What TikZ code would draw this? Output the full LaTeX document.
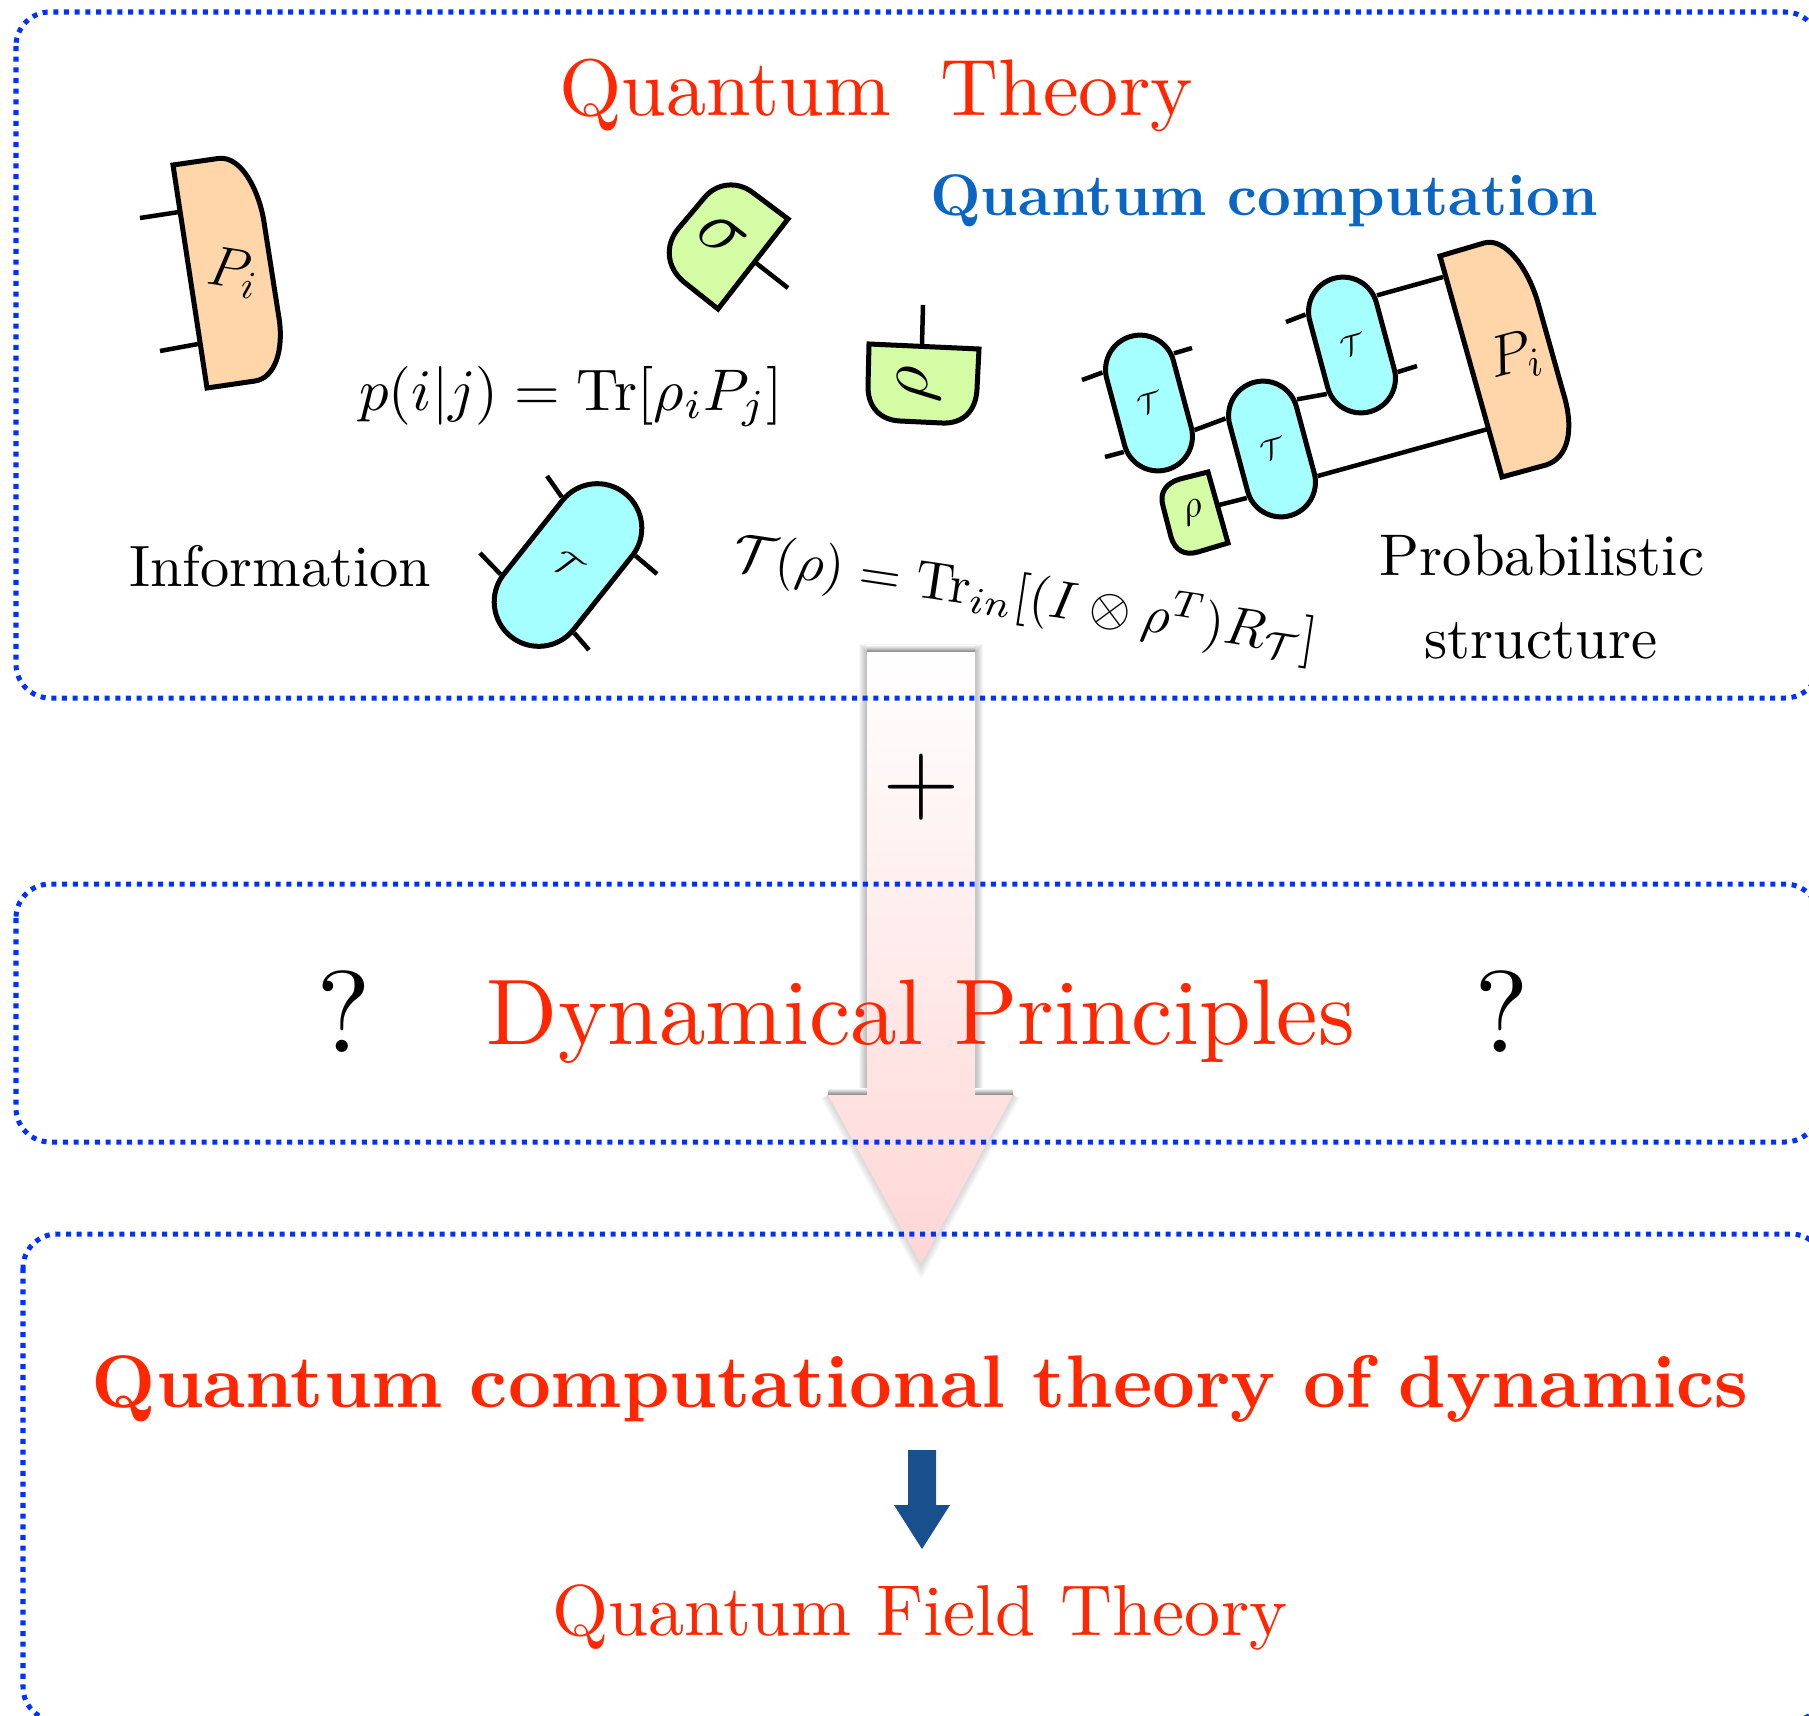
\documentclass[tikz,border=0pt]{standalone}
\usepackage{fix-cm}
\usepackage{amsmath,amssymb}
\usetikzlibrary{calc}
\definecolor{qtred}{RGB}{255,38,0}
\definecolor{qtblue}{RGB}{0,50,255}
\definecolor{compblue}{RGB}{10,102,194}
\definecolor{peach}{RGB}{255,214,170}
\definecolor{stategreen}{RGB}{212,252,165}
\definecolor{chancyan}{RGB}{166,255,255}
\definecolor{arrowpink}{RGB}{255,214,214}
\definecolor{downblue}{RGB}{23,80,140}
\newcommand{\fs}[1]{\fontsize{#1}{#1}\selectfont}
\tikzset{
  boxline/.style={qtblue,line width=0.05cm,dash pattern=on 0.05cm off 0.0567cm,rounded corners=0.34cm},
  effect/.style={draw=black,fill=peach,line width=0.05cm,line join=miter},
  state/.style={draw=black,fill=stategreen,line width=0.05cm,line join=miter},
  wire/.style={black,line width=0.045cm},
  chan/.style={draw=black,fill=chancyan,line width=0.05cm,rectangle,rounded corners=0.345cm,
    minimum width=0.69cm,minimum height=1.38cm,inner sep=0pt},
  bigchan/.style={chan,rounded corners=0.445cm,minimum width=0.89cm,minimum height=1.83cm},
  plain/.style={anchor=base,inner sep=0pt}
}
\begin{document}
\begin{tikzpicture}[x=0.01cm,y=-0.01cm]
    \clip (0,0) rectangle (1809,1715);
    % Big arrow with its soft shadow
    \foreach \w in {2,4,6,8,10,12,14,16}{
      \draw[black,opacity=0.035,line width=\w*0.01cm] (867,652) rectangle (975,1095);
      \draw[black,opacity=0.018,line width=\w*0.01cm,line join=miter] (1013,1095) -- (921,1264) -- (828,1095);
    }
    \shade[top color=white,bottom color=black!50] (867,645) rectangle (975,652);
    \shade[top color=white,bottom color=black!50] (828,1088) rectangle (867,1095);
    \shade[top color=white,bottom color=black!50] (975,1088) rectangle (1013,1095);
    \shade[top color=white,bottom color=arrowpink] (867,652) -- (975,652) -- (975,1095) -- (1013,1095) -- (921,1264) -- (828,1095) -- (867,1095) -- cycle;

    % Dotted boxes
    \draw[boxline] (16,12) rectangle (1819,698);
    \draw[boxline] (16,884) rectangle (1819,1142);
    \draw[boxline] (23,1234) rectangle (1825,1721);

    % Titles
    \node[plain,qtred,scale=2.28] (qtitle) at (876,115) {Quantum\hspace{0.62em}Theory};
    \node[plain,compblue,scale=1.67,font=\bfseries] (qcomp) at (1264,215) {Quantum\hspace{0.35em}computation};
    \node[plain,qtred,scale=2.65] (dyn) at (921,1044) {Dynamical Principles};
    \node[plain,scale=3.3] (ql) at (344,1052) {?};
    \node[plain,scale=3.3] (qr) at (1502,1052) {?};
    \node[font=\fs{30}] (plus) at (921,787) {$+$};
    \node[plain,qtred,scale=2.12,font=\bfseries] (qctd) at (920,1407) {Quantum\hspace{0.36em}computational\hspace{0.36em}theory\hspace{0.36em}of\hspace{0.36em}dynamics};
    \node[plain,qtred,scale=2.05] (qft) at (920,1635) {Quantum\hspace{0.35em}Field\hspace{0.35em}Theory};
    \fill[downblue] (908,1450) -- (936,1450) -- (936,1505) -- (950,1505) -- (922,1549) -- (894,1505) -- (908,1505) -- cycle;

    % Left effect
    \draw[effect] (173,165) -- (218,158.5) .. controls (243,155) and (260,195) .. (264,222) -- (279,318) .. controls (284,350) and (275,378) .. (255,381) -- (207,388) -- cycle;
    \node[rotate=-9,font=\fs{16}] (pleft) at (233,273) {$P_i$};
    \coordinate (pl1) at (179,212);
    \coordinate (pl2) at (198,344);
    \coordinate (pf1) at (140,218);
    \coordinate (pf2) at (160,351);
    \draw[wire] (pl1) -- (pf1);
    \draw[wire] (pl2) -- (pf2);

    % States
    \draw[state] (788,219) -- (718,309) -- (684,282) .. controls (666,267) and (665,245) .. (678,229) -- (705,197) .. controls (717,183) and (737,181) .. (752,192) -- cycle;
    \node[rotate=-38,font=\fs{22}] (sig) at (722,236) {$\sigma$};
    \coordinate (sg1) at (756,263);
    \coordinate (sg2) at (788,288);
    \draw[wire] (sg1) -- (sg2);
    \draw[state] (869,344) -- (979,349) -- (977,389) .. controls (976,411) and (963,424) .. (942,423) -- (900,421) .. controls (880,420) and (868,407) .. (868,387) -- cycle;
    \node[rotate=87,font=\fs{20}] (rhomid) at (919,384) {$\rho$};
    \coordinate (rh1) at (922,344);
    \coordinate (rh2) at (923,305);
    \draw[wire] (rh1) -- (rh2);

    % Large channel
    \node[bigchan,rotate=-38.5,font=\fs{9.5}] (big) at (568,565) {$\mathcal{T}$};
    \foreach \a/\b/\c/\d in {0.238/north west/south west/bf1,0.762/north west/south west/bf2,0.238/north east/south east/bf3,0.762/north east/south east/bf4}
      \coordinate (\d) at ($(big.\b)!\a!(big.\c)$);
    \coordinate (bo1) at (547,476);
    \coordinate (bo2) at (480,553);
    \coordinate (bo3) at (657,574);
    \coordinate (bo4) at (589,650);
    \draw[wire] (bf1) -- (bo1);
    \draw[wire] (bf2) -- (bo2);
    \draw[wire] (bf3) -- (bo3);
    \draw[wire] (bf4) -- (bo4);

    % Circuit
    \node[chan,rotate=15,font=\fs{8}] (ta) at (1149,403) {$\mathcal{T}$};
    \node[chan,rotate=15,font=\fs{8}] (tb) at (1272,449) {$\mathcal{T}$};
    \node[chan,rotate=15,font=\fs{8}] (tc) at (1352,345) {$\mathcal{T}$};
    \foreach \p in {ta,tb,tc}{
      \coordinate (\p nw) at ($(\p.north west)!0.21!(\p.south west)$);
      \coordinate (\p sw) at ($(\p.north west)!0.785!(\p.south west)$);
      \coordinate (\p ne) at ($(\p.north east)!0.21!(\p.south east)$);
      \coordinate (\p se) at ($(\p.north east)!0.765!(\p.south east)$);
    }
    \draw[effect] (1440,256) -- (1484,243) .. controls (1505,237) and (1528,268) .. (1538,303) -- (1563,392) .. controls (1575,430) and (1568,458) .. (1546,465) -- (1502,477) -- cycle;
    \node[rotate=15,font=\fs{16.5}] (pright) at (1515,357) {$P_i$};
    \draw[state] (1208,472) -- (1228,543) -- (1198,552) .. controls (1184,556) and (1175,550) .. (1171,537) -- (1163,506) .. controls (1159,493) and (1166,483) .. (1180,479) -- cycle;
    \node[rotate=15,font=\fs{11}] (rhos) at (1193,512) {$\rho$};
    \coordinate (rsr) at (1219,505);
    \coordinate (pr1) at (1443,277);
    \coordinate (pr2) at (1488,429);
    \coordinate (a1) at (1082,380);
    \coordinate (a2) at (1105,457);
    \coordinate (a3) at (1192,348);
    \coordinate (c1) at (1286,322);
    \coordinate (c2) at (1417,366);
    \draw[wire] (tanw) -- (a1);
    \draw[wire] (tasw) -- (a2);
    \draw[wire] (tane) -- (a3);
    \draw[wire] (tase) -- (tbnw);
    \draw[wire] (tbne) -- (tcsw);
    \draw[wire] (tcnw) -- (c1);
    \draw[wire] (tcse) -- (c2);
    \draw[wire] (tcne) -- (pr1);
    \draw[wire] (tbse) -- (pr2);
    \draw[wire] (tbsw) -- (rsr);

    % Formulas and labels
    \node[plain,scale=1.67] (prob) at (571,410) {$p(i|j)=\mathrm{Tr}[\rho_iP_j]$};
    \node[rotate=-8.5,scale=1.53] (chform) at (1025,597) {$\mathcal{T}(\rho)=\mathrm{Tr}_{in}[(I\otimes\rho^{T})R_{\mathcal{T}}]$};
    \node[plain,scale=1.66] (info) at (280,586) {Information};
    \node[plain,scale=1.67] (pst1) at (1542,575) {Probabilistic};
    \node[plain,scale=1.67] (pst2) at (1541,658) {structure};
\end{tikzpicture}
\end{document}
